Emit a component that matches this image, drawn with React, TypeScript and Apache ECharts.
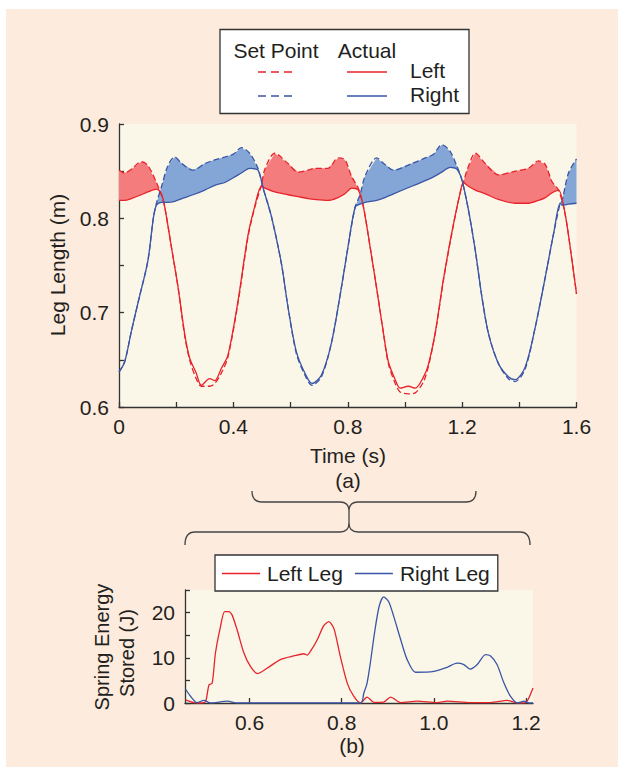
import React, { useEffect, useRef } from "react";
import * as echarts from "echarts";

// ---------- Data ----------
const leftTime = [0, 0.02, 0.043, 0.078, 0.101, 0.131, 0.148, 0.16, 0.183, 0.206, 0.23, 0.247, 0.27, 0.288, 0.317, 0.335, 0.358, 0.381, 0.416, 0.451, 0.475, 0.498, 0.51, 0.545, 0.591, 0.626, 0.661, 0.684, 0.731, 0.766, 0.79, 0.814, 0.837, 0.855, 0.878, 0.902, 0.925, 0.942, 0.966, 0.983, 1.012, 1.036, 1.065, 1.082, 1.106, 1.135, 1.164, 1.193, 1.205, 1.222, 1.246, 1.281, 1.327, 1.386, 1.432, 1.467, 1.491, 1.514, 1.537, 1.56, 1.584, 1.6];
const leftSetPoint = [0.851, 0.848, 0.852, 0.86, 0.856, 0.838, 0.825, 0.812, 0.77, 0.728, 0.675, 0.65, 0.63, 0.622, 0.622, 0.625, 0.636, 0.653, 0.71, 0.78, 0.812, 0.835, 0.852, 0.869, 0.858, 0.849, 0.851, 0.853, 0.853, 0.864, 0.862, 0.844, 0.832, 0.812, 0.77, 0.724, 0.678, 0.646, 0.625, 0.616, 0.614, 0.615, 0.627, 0.643, 0.678, 0.735, 0.784, 0.827, 0.839, 0.855, 0.869, 0.858, 0.846, 0.85, 0.853, 0.861, 0.857, 0.839, 0.83, 0.805, 0.756, 0.72];
const leftActual = [0.819, 0.819, 0.821, 0.825, 0.828, 0.831, 0.826, 0.812, 0.77, 0.728, 0.677, 0.652, 0.636, 0.623, 0.63, 0.628, 0.641, 0.655, 0.712, 0.782, 0.813, 0.834, 0.832, 0.828, 0.825, 0.823, 0.821, 0.82, 0.819, 0.822, 0.826, 0.832, 0.83, 0.812, 0.77, 0.724, 0.678, 0.648, 0.629, 0.62, 0.622, 0.62, 0.632, 0.645, 0.679, 0.736, 0.785, 0.827, 0.838, 0.834, 0.83, 0.826, 0.82, 0.816, 0.816, 0.819, 0.822, 0.827, 0.83, 0.805, 0.756, 0.72];

const rightTime = [0, 0.02, 0.043, 0.07, 0.101, 0.12, 0.131, 0.15, 0.17, 0.195, 0.22, 0.259, 0.3, 0.335, 0.37, 0.4, 0.428, 0.457, 0.486, 0.504, 0.533, 0.568, 0.591, 0.62, 0.65, 0.675, 0.708, 0.743, 0.778, 0.801, 0.826, 0.843, 0.861, 0.901, 0.93, 0.96, 1.024, 1.071, 1.1, 1.129, 1.158, 1.182, 1.199, 1.222, 1.246, 1.269, 1.292, 1.327, 1.362, 1.385, 1.42, 1.456, 1.491, 1.52, 1.543, 1.549, 1.572, 1.6];
const rightSetPoint = [0.637, 0.648, 0.68, 0.715, 0.755, 0.8, 0.816, 0.835, 0.855, 0.865, 0.858, 0.851, 0.858, 0.862, 0.865, 0.868, 0.875, 0.869, 0.853, 0.832, 0.802, 0.752, 0.706, 0.657, 0.634, 0.623, 0.632, 0.668, 0.727, 0.77, 0.812, 0.825, 0.845, 0.864, 0.857, 0.851, 0.858, 0.864, 0.868, 0.878, 0.871, 0.855, 0.841, 0.809, 0.766, 0.717, 0.678, 0.646, 0.63, 0.627, 0.64, 0.685, 0.738, 0.784, 0.816, 0.818, 0.848, 0.863];
const rightActual = [0.637, 0.648, 0.68, 0.715, 0.755, 0.8, 0.814, 0.817, 0.817, 0.818, 0.821, 0.825, 0.83, 0.835, 0.838, 0.843, 0.848, 0.853, 0.851, 0.832, 0.802, 0.752, 0.706, 0.659, 0.636, 0.625, 0.634, 0.668, 0.727, 0.77, 0.812, 0.815, 0.817, 0.819, 0.822, 0.826, 0.834, 0.84, 0.844, 0.849, 0.854, 0.852, 0.841, 0.809, 0.766, 0.717, 0.678, 0.646, 0.632, 0.629, 0.642, 0.685, 0.738, 0.784, 0.816, 0.814, 0.815, 0.816];

const leftStance = [[0, 0.148], [0.498, 0.855], [1.205, 1.56]];
const rightStance = [[0.12, 0.504], [0.826, 1.199], [1.543, 1.6]];

const leftEnergyTime = [0.461, 0.479, 0.497, 0.505, 0.512, 0.519, 0.526, 0.537, 0.546, 0.555, 0.562, 0.573, 0.588, 0.602, 0.617, 0.638, 0.667, 0.696, 0.718, 0.725, 0.732, 0.747, 0.761, 0.772, 0.783, 0.797, 0.812, 0.826, 0.841, 0.855, 0.87, 0.891, 0.906, 0.928, 0.964, 1.007, 1.029, 1.079, 1.123, 1.159, 1.181, 1.199, 1.206, 1.215];
const leftEnergy = [0.7, 0.1, 0, 0.4, 4, 4.4, 11, 16.9, 20.2, 20.2, 19.5, 16.2, 11, 8.1, 6.5, 7.7, 9.6, 10.4, 10.9, 10.6, 11.4, 14, 17.1, 18, 16.5, 10.3, 4.4, 1.5, 0, 1.3, 0.15, 0.2, 1.3, 0.1, 0.4, 0.1, 0.4, 0.1, 0.1, 0.6, 0, 0.1, 1.1, 3.3];
const rightEnergyTime = [0.461, 0.472, 0.486, 0.501, 0.515, 0.552, 0.573, 0.841, 0.848, 0.855, 0.862, 0.871, 0.881, 0.891, 0.902, 0.913, 0.928, 0.942, 0.96, 1.0, 1.029, 1.05, 1.065, 1.079, 1.094, 1.112, 1.123, 1.137, 1.152, 1.166, 1.181, 1.196, 1.206, 1.215];
const rightEnergy = [3.1, 1.5, 0.1, 0.6, 0, 0.4, 0, 0, 2.2, 4.4, 8.8, 15.4, 21.3, 23.5, 22.4, 19.1, 14, 9.6, 6.8, 7, 7.9, 8.8, 8.5, 7.5, 8.5, 10.7, 10.4, 8.5, 4.4, 1.5, 0, 0.4, 0, 0];

const timeTickLabels = [0, 0.4, 0.8, 1.2, 1.6];
const legLengthTickLabels = [0.6, 0.7, 0.8, 0.9];
const energyTimeTicks = [0.6, 0.8, 1.0, 1.2];
const energyTickLabels = [0, 10, 20];

// ---------- Style ----------
const FONT = "'Liberation Sans', Arial, Helvetica, sans-serif";
const INK = "#231F20";
const RED = "#E8232B";
const BLUE = "#3A55A6";
const RED_FILL = "#F47C7C";
const BLUE_FILL = "#84A6D6";
const PEACH = "#FDEBDD";
const CREAM = "#FAF6E8";

const BRACE_D =
  "M252 491 Q252 502 262 502 L340 502 Q349 502 349 511 L349 523 Q349 532 340 532 L195 532 Q185 532 185 545 " +
  "M349 511 Q349 502 358 502 L466 502 Q476 502 476 491 " +
  "M349 523 Q349 532 358 532 L520 532 Q530 532 530 545";

let braceRegistered = false;
function registerBrace() {
  if (braceRegistered) return;
  echarts.graphic.registerShape("brace", echarts.graphic.extendPath(BRACE_D, {}));
  braceRegistered = true;
}

function pairs(xs: number[], ys: number[]) {
  return xs.map((x, i) => [x, ys[i]]);
}

function lineSeries(name: string, xs: number[], ys: number[], color: string, dashed: boolean, axis: number) {
  return {
    name,
    type: "line",
    xAxisIndex: axis,
    yAxisIndex: axis,
    data: pairs(xs, ys),
    symbol: "none",
    showSymbol: false,
    smooth: 0.3,
    clip: true,
    z: dashed ? 3 : 4,
    lineStyle: { color, width: 1.3, type: dashed ? [6, 3] : "solid" },
    itemStyle: { color },
    silent: true,
  };
}

function fillSeries(name: string, stance: number[][], xs: number[], upper: number[], lower: number[], fill: string) {
  return {
    name,
    type: "custom",
    xAxisIndex: 0,
    yAxisIndex: 0,
    clip: true,
    silent: true,
    z: 2,
    data: stance.map((s) => [s[0], s[1]]),
    renderItem: (params: any, api: any) => {
      const a = api.value(0);
      const b = api.value(1);
      const top: number[][] = [];
      const bot: number[][] = [];
      xs.forEach((t, i) => {
        if (t >= a - 1e-9 && t <= b + 1e-9) {
          top.push(api.coord([t, upper[i]]));
          bot.push(api.coord([t, lower[i]]));
        }
      });
      return {
        type: "polygon",
        shape: { points: top.concat(bot.reverse()) },
        style: { fill, stroke: null },
      };
    },
  };
}

const axisCommon = {
  axisLine: { show: true, onZero: false, lineStyle: { color: "#333", width: 1.3 } },
  axisTick: { show: true, inside: true, length: 5, lineStyle: { color: "#333", width: 1.3 } },
  splitLine: { show: false },
};

const labelCommon = { color: INK, fontSize: 21, fontFamily: FONT, margin: 9 };

export default function App() {
  const ref = useRef<HTMLDivElement>(null);

  useEffect(() => {
    if (!ref.current) return;
    registerBrace();
    const chart = echarts.init(ref.current, null, { renderer: "svg" });

    const txt = (text: string, x: number, y: number, extra: any = {}, rotation = 0) => ({
      type: "text",
      x,
      y,
      z: 10,
      rotation,
      style: {
        text,
        fill: INK,
        fontSize: 21,
        fontFamily: FONT,
        align: "center",
        verticalAlign: "middle",
        ...extra,
      },
    });

    const option: any = {
      animation: false,
      backgroundColor: "transparent",
      textStyle: { fontFamily: FONT },
      grid: [
        { left: 119, top: 124, width: 457.5, height: 283, show: true, backgroundColor: CREAM, borderWidth: 0, containLabel: false },
        { left: 185, top: 590, width: 348, height: 113, show: true, backgroundColor: CREAM, borderWidth: 0, containLabel: false },
      ],
      xAxis: [
        {
          type: "value",
          gridIndex: 0,
          min: 0,
          max: 1.6,
          interval: 0.2,
          ...axisCommon,
          axisLabel: {
            ...labelCommon,
            customValues: timeTickLabels,
            formatter: (v: number) => (v === 0 ? "0" : v.toFixed(1)),
          },
        },
        {
          type: "value",
          gridIndex: 1,
          min: 0.46,
          max: 1.215,
          ...axisCommon,
          axisTick: { ...axisCommon.axisTick, customValues: energyTimeTicks },
          axisLabel: {
            ...labelCommon,
            customValues: energyTimeTicks,
            formatter: (v: number) => v.toFixed(1),
          },
        },
      ],
      yAxis: [
        {
          type: "value",
          gridIndex: 0,
          min: 0.6,
          max: 0.9,
          interval: 0.05,
          ...axisCommon,
          axisLabel: {
            ...labelCommon,
            margin: 10,
            customValues: legLengthTickLabels,
            formatter: (v: number) => v.toFixed(1),
          },
        },
        {
          type: "value",
          gridIndex: 1,
          min: 0,
          max: 25,
          interval: 5,
          ...axisCommon,
          axisLabel: {
            ...labelCommon,
            margin: 10,
            customValues: energyTickLabels,
            formatter: (v: number) => String(v),
          },
        },
      ],
      legend: {
        data: ["Left Leg", "Right Leg"],
        left: 215,
        top: 555,
        orient: "horizontal",
        icon: "rect",
        itemWidth: 38,
        itemHeight: 1.4,
        itemGap: 12,
        padding: [8, 8, 7, 7],
        borderColor: "#333",
        borderWidth: 1.3,
        borderRadius: 0,
        backgroundColor: "#fff",
        selectedMode: false,
        textStyle: { fontSize: 21, color: INK, fontFamily: FONT, padding: [0, 0, 0, 2] },
      },
      series: [
        fillSeries("Left fill", leftStance, leftTime, leftSetPoint, leftActual, RED_FILL),
        fillSeries("Right fill", rightStance, rightTime, rightSetPoint, rightActual, BLUE_FILL),
        lineSeries("Left Set Point", leftTime, leftSetPoint, RED, true, 0),
        lineSeries("Right Set Point", rightTime, rightSetPoint, BLUE, true, 0),
        lineSeries("Left Actual", leftTime, leftActual, RED, false, 0),
        lineSeries("Right Actual", rightTime, rightActual, BLUE, false, 0),
        { ...lineSeries("Left Leg", leftEnergyTime, leftEnergy, RED, false, 1), smooth: 0.25 },
        { ...lineSeries("Right Leg", rightEnergyTime, rightEnergy, BLUE, false, 1), smooth: 0.25 },
      ],
      graphic: [
        // top legend box
        {
          type: "rect",
          z: 9,
          shape: { x: 220, y: 29.5, width: 249, height: 84 },
          style: { fill: "#fff", stroke: "#333", lineWidth: 1.3 },
        },
        txt("Set Point", 276, 50),
        txt("Actual", 367, 50),
        txt("Left", 410, 70, { align: "left" }),
        txt("Right", 410, 94, { align: "left" }),
        { type: "line", z: 10, shape: { x1: 258, y1: 72, x2: 292, y2: 72 }, style: { stroke: RED, lineWidth: 1.3, lineDash: [8, 5] } },
        { type: "line", z: 10, shape: { x1: 347, y1: 72, x2: 387, y2: 72 }, style: { stroke: RED, lineWidth: 1.3 } },
        { type: "line", z: 10, shape: { x1: 258, y1: 96, x2: 292, y2: 96 }, style: { stroke: BLUE, lineWidth: 1.3, lineDash: [8, 5] } },
        { type: "line", z: 10, shape: { x1: 347, y1: 96, x2: 387, y2: 96 }, style: { stroke: BLUE, lineWidth: 1.3 } },
        // axis titles
        txt("Leg Length (m)", 57, 265, {}, Math.PI / 2),
        txt("Time (s)", 348, 455),
        txt("(a)", 348, 480),
        txt("Spring Energy", 102, 647, { fontSize: 20 }, Math.PI / 2),
        txt("Stored (J)", 127, 653, { fontSize: 20 }, Math.PI / 2),
        txt("(b)", 352, 745),
        // brace
        { type: "brace", x: 0, y: 0, z: 10, style: { fill: "none", stroke: "#444", lineWidth: 1.3 } },
      ],
    };

    chart.setOption(option);
    return () => chart.dispose();
  }, []);

  return (
    <div style={{ position: "fixed", left: 0, top: 0, width: 618, height: 767, background: "#fff" }}>
      <div style={{ position: "absolute", left: 6, top: 9, right: 0, bottom: 0, background: PEACH }} />
      <div ref={ref} style={{ position: "absolute", left: 0, top: 0, width: 618, height: 767 }} />
    </div>
  );
}
